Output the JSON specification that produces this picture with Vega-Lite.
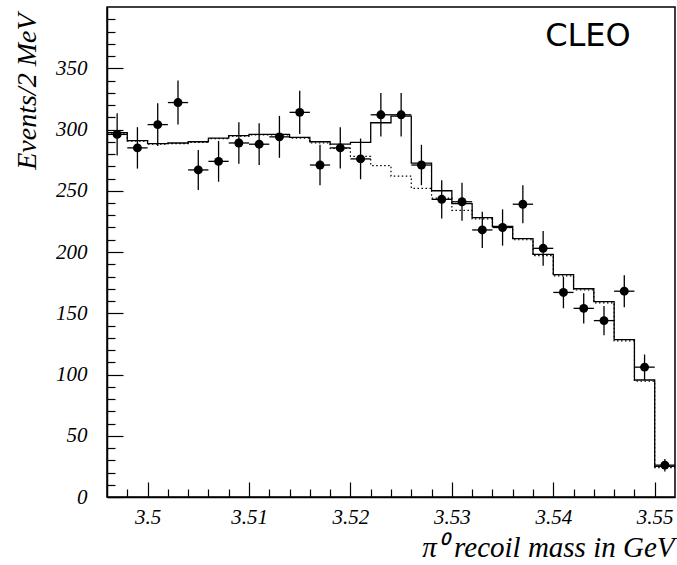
{
  "$schema": "https://vega.github.io/schema/vega-lite/v6.json",
  "width": 568,
  "height": 490,
  "autosize": {"type": "none"},
  "padding": {"left": 107, "top": 7, "right": 2, "bottom": 68},
  "background": "white",
  "config": {
    "view": {"stroke": "black", "strokeWidth": 1.5},
    "axis": {
      "grid": false,
      "domainColor": "black",
      "domainWidth": 1.5,
      "tickColor": "black",
      "tickWidth": 1.2,
      "labelFont": "Liberation Serif",
      "labelFontStyle": "italic",
      "labelFontSize": 21,
      "labelColor": "black",
      "labelOverlap": false,
      "labelFlush": false,
      "titleFont": "Liberation Serif",
      "titleFontStyle": "italic",
      "titleFontSize": 28,
      "titleFontWeight": "normal",
      "titleColor": "black"
    }
  },
  "resolve": {"axis": {"x": "independent", "y": "independent"}},
  "datasets": {
    "pts": [
      {"m": 3.497, "n": 296, "lo": 278.8, "hi": 313.2, "mlo": 3.496, "mhi": 3.498},
      {"m": 3.499, "n": 285, "lo": 268.1, "hi": 301.9, "mlo": 3.498, "mhi": 3.500},
      {"m": 3.501, "n": 304, "lo": 286.6, "hi": 321.4, "mlo": 3.500, "mhi": 3.502},
      {"m": 3.503, "n": 322, "lo": 304.1, "hi": 339.9, "mlo": 3.502, "mhi": 3.504},
      {"m": 3.505, "n": 267, "lo": 250.7, "hi": 283.3, "mlo": 3.504, "mhi": 3.506},
      {"m": 3.507, "n": 274, "lo": 257.4, "hi": 290.6, "mlo": 3.506, "mhi": 3.508},
      {"m": 3.509, "n": 289, "lo": 272.0, "hi": 306.0, "mlo": 3.508, "mhi": 3.510},
      {"m": 3.511, "n": 288, "lo": 271.0, "hi": 305.0, "mlo": 3.510, "mhi": 3.512},
      {"m": 3.513, "n": 294, "lo": 276.9, "hi": 311.1, "mlo": 3.512, "mhi": 3.514},
      {"m": 3.515, "n": 314, "lo": 296.3, "hi": 331.7, "mlo": 3.514, "mhi": 3.516},
      {"m": 3.517, "n": 271, "lo": 254.5, "hi": 287.5, "mlo": 3.516, "mhi": 3.518},
      {"m": 3.519, "n": 285, "lo": 268.1, "hi": 301.9, "mlo": 3.518, "mhi": 3.520},
      {"m": 3.521, "n": 276, "lo": 259.4, "hi": 292.6, "mlo": 3.520, "mhi": 3.522},
      {"m": 3.523, "n": 312, "lo": 294.3, "hi": 329.7, "mlo": 3.522, "mhi": 3.524},
      {"m": 3.525, "n": 312, "lo": 294.3, "hi": 329.7, "mlo": 3.524, "mhi": 3.526},
      {"m": 3.527, "n": 271, "lo": 254.5, "hi": 287.5, "mlo": 3.526, "mhi": 3.528},
      {"m": 3.529, "n": 243, "lo": 227.4, "hi": 258.6, "mlo": 3.528, "mhi": 3.530},
      {"m": 3.531, "n": 241, "lo": 225.5, "hi": 256.5, "mlo": 3.530, "mhi": 3.532},
      {"m": 3.533, "n": 218, "lo": 203.2, "hi": 232.8, "mlo": 3.532, "mhi": 3.534},
      {"m": 3.535, "n": 220, "lo": 205.2, "hi": 234.8, "mlo": 3.534, "mhi": 3.536},
      {"m": 3.537, "n": 239, "lo": 223.5, "hi": 254.5, "mlo": 3.536, "mhi": 3.538},
      {"m": 3.539, "n": 203, "lo": 188.8, "hi": 217.2, "mlo": 3.538, "mhi": 3.540},
      {"m": 3.541, "n": 167, "lo": 154.1, "hi": 179.9, "mlo": 3.540, "mhi": 3.542},
      {"m": 3.543, "n": 154, "lo": 141.6, "hi": 166.4, "mlo": 3.542, "mhi": 3.544},
      {"m": 3.545, "n": 144, "lo": 132.0, "hi": 156.0, "mlo": 3.544, "mhi": 3.546},
      {"m": 3.547, "n": 168, "lo": 155.0, "hi": 181.0, "mlo": 3.546, "mhi": 3.548},
      {"m": 3.549, "n": 106, "lo": 95.7, "hi": 116.3, "mlo": 3.548, "mhi": 3.550},
      {"m": 3.551, "n": 26, "lo": 20.9, "hi": 31.1, "mlo": 3.550, "mhi": 3.552}
    ],
    "fit": [
      {"e": 3.496, "tot": 297.5, "bkg": 297},
      {"e": 3.498, "tot": 291, "bkg": 290.5},
      {"e": 3.500, "tot": 288.5, "bkg": 288},
      {"e": 3.502, "tot": 289, "bkg": 288.5},
      {"e": 3.504, "tot": 290, "bkg": 289.5},
      {"e": 3.506, "tot": 293, "bkg": 292.5},
      {"e": 3.508, "tot": 295, "bkg": 294.5},
      {"e": 3.510, "tot": 296, "bkg": 295.5},
      {"e": 3.512, "tot": 296, "bkg": 295.5},
      {"e": 3.514, "tot": 293.5, "bkg": 293},
      {"e": 3.516, "tot": 290, "bkg": 289},
      {"e": 3.518, "tot": 288, "bkg": 284.5},
      {"e": 3.520, "tot": 289.5, "bkg": 278},
      {"e": 3.522, "tot": 305.5, "bkg": 270.5},
      {"e": 3.524, "tot": 311, "bkg": 262},
      {"e": 3.526, "tot": 272.5, "bkg": 252},
      {"e": 3.528, "tot": 250, "bkg": 244},
      {"e": 3.530, "tot": 239.5, "bkg": 234},
      {"e": 3.532, "tot": 228, "bkg": 227},
      {"e": 3.534, "tot": 221, "bkg": 220},
      {"e": 3.536, "tot": 211, "bkg": 210},
      {"e": 3.538, "tot": 198, "bkg": 197},
      {"e": 3.540, "tot": 181.5, "bkg": 180.5},
      {"e": 3.542, "tot": 170, "bkg": 169},
      {"e": 3.544, "tot": 159.5, "bkg": 158.5},
      {"e": 3.546, "tot": 128.5, "bkg": 127.5},
      {"e": 3.548, "tot": 95.5, "bkg": 94.5},
      {"e": 3.550, "tot": 25, "bkg": 24},
      {"e": 3.552, "tot": 25, "bkg": 24}
    ],
    "lab": [
      {"m": 3.5392, "n": 368, "t": "CLEO"}
    ]
  },
  "layer": [
    {
      "data": {"name": "fit"},
      "mark": {"type": "line", "interpolate": "step-after", "color": "black", "strokeWidth": 1.3, "clip": true},
      "encoding": {
        "x": {
          "field": "e", "type": "quantitative",
          "scale": {"domain": [3.496, 3.552], "nice": false, "zero": false},
          "axis": {
            "orient": "bottom",
            "values": [3.5, 3.51, 3.52, 3.53, 3.54, 3.55],
            "labelExpr": "'' + datum.value",
            "labelOverlap": false,
            "tickSize": -15,
            "labelPadding": 24,
            "title": "π⁰\u00a0recoil mass in GeV",
            "titleFontSize": 29,
            "titleAlign": "right",
            "titleBaseline": "alphabetic",
            "titleX": 567,
            "titleY": 59
          }
        },
        "y": {
          "field": "tot", "type": "quantitative",
          "scale": {"domain": [0, 400], "nice": false},
          "axis": {
            "orient": "left",
            "values": [0, 50, 100, 150, 200, 250, 300, 350],
            "labelExpr": "'' + datum.value",
            "labelOverlap": false,
            "tickSize": -16,
            "labelPadding": 36,
            "title": "Events/2 MeV",
            "titleAngle": -90,
            "titleAlign": "right",
            "titleBaseline": "alphabetic",
            "titleX": -72,
            "titleY": 6
          }
        }
      }
    },
    {
      "data": {"name": "fit"},
      "mark": {"type": "line", "interpolate": "step-after", "color": "black", "strokeWidth": 1.2, "strokeDash": [1.5, 2.5], "clip": true},
      "encoding": {
        "x": {
          "field": "e", "type": "quantitative",
          "axis": {
            "orient": "bottom",
            "values": [3.498, 3.502, 3.504, 3.506, 3.508, 3.512, 3.514, 3.516, 3.518, 3.522, 3.524, 3.526, 3.528, 3.532, 3.534, 3.536, 3.538, 3.542, 3.544, 3.546, 3.548],
            "labels": false,
            "domain": false,
            "tickSize": -8,
            "title": null
          }
        },
        "y": {
          "field": "bkg", "type": "quantitative",
          "axis": {
            "orient": "left",
            "values": [10, 20, 30, 40, 60, 70, 80, 90, 110, 120, 130, 140, 160, 170, 180, 190, 210, 220, 230, 240, 260, 270, 280, 290, 310, 320, 330, 340, 360, 370, 380, 390],
            "labels": false,
            "domain": false,
            "tickSize": -8,
            "title": null
          }
        }
      }
    },
    {
      "data": {"name": "pts"},
      "mark": {"type": "rule", "color": "black", "strokeWidth": 1.3},
      "encoding": {
        "x": {"field": "m", "type": "quantitative", "axis": null},
        "y": {"field": "lo", "type": "quantitative", "axis": null},
        "y2": {"field": "hi"}
      }
    },
    {
      "data": {"name": "pts"},
      "mark": {"type": "rule", "color": "black", "strokeWidth": 1.3},
      "encoding": {
        "x": {"field": "mlo", "type": "quantitative", "axis": null},
        "x2": {"field": "mhi"},
        "y": {"field": "n", "type": "quantitative", "axis": null}
      }
    },
    {
      "data": {"name": "pts"},
      "mark": {"type": "point", "filled": true, "color": "black", "opacity": 1, "size": 80},
      "encoding": {
        "x": {"field": "m", "type": "quantitative", "axis": null},
        "y": {"field": "n", "type": "quantitative", "axis": null}
      }
    },
    {
      "data": {"name": "lab"},
      "mark": {"type": "text", "align": "left", "baseline": "alphabetic", "font": "DejaVu Sans", "fontSize": 32, "color": "black"},
      "encoding": {
        "x": {"field": "m", "type": "quantitative", "axis": null},
        "y": {"field": "n", "type": "quantitative", "axis": null},
        "text": {"field": "t"}
      }
    }
  ]
}
